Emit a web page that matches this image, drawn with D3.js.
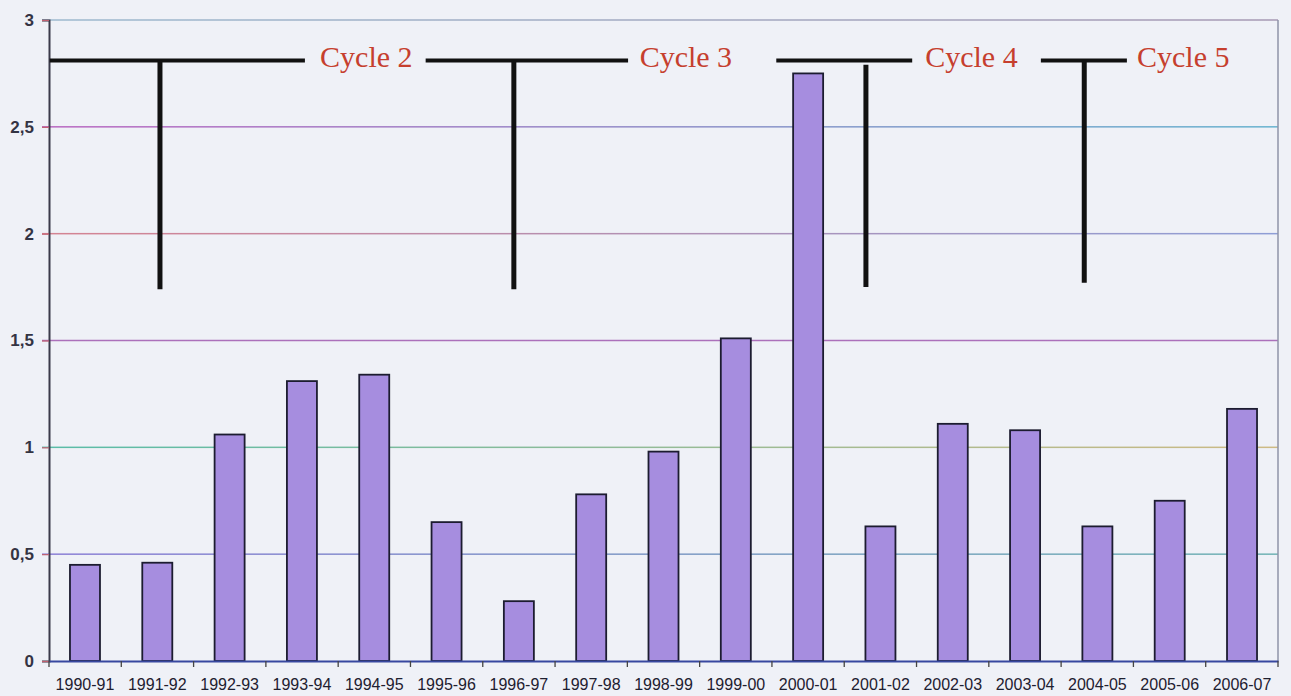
<!DOCTYPE html>
<html>
<head>
<meta charset="utf-8">
<script src="https://cdn.jsdelivr.net/npm/d3@7"></script>
<style>
  html, body { margin: 0; padding: 0; background: #eff1f7; }
  svg { display: block; }
</style>
</head>
<body>
<svg id="chart" width="1291" height="696"></svg>
<script>
// ---- data ----
const categories = ["1990-91","1991-92","1992-93","1993-94","1994-95","1995-96","1996-97","1997-98","1998-99","1999-00","2000-01","2001-02","2002-03","2003-04","2004-05","2005-06","2006-07"];
const values = [0.45, 0.46, 1.06, 1.31, 1.34, 0.65, 0.28, 0.78, 0.98, 1.51, 2.75, 0.63, 1.11, 1.08, 0.63, 0.75, 1.18];
const yTicks = [0, 0.5, 1, 1.5, 2, 2.5, 3];
// cycle annotations (x in category-index units, y in value units)
const cycleLabels = ["Cycle 2", "Cycle 3", "Cycle 4", "Cycle 5"];
const cycleBarStart = [0.01, 5.21, 10.06, 13.72];
const cycleBarEnd = [3.54, 8.01, 11.94, 14.91];
const cycleStemX = [1.535, 6.43, 11.30, 14.32];
const cycleStemTop = [2.81, 2.81, 2.79, 2.81];
const cycleStemBottom = [1.74, 1.74, 1.75, 1.77];
const cycleTextX = [3.75, 8.17, 12.12, 15.05];
const cycleLevel = 2.81;

// ---- styles ----
const gridColors = [
  ["#6b74b8", "#6b74b8"],
  ["#7a6bd0", "#5aa8a8"],
  ["#3fb39a", "#c8b070"],
  ["#a05ab0", "#a05ab0"],
  ["#d07080", "#7d8fd0"],
  ["#b050b8", "#50a8c8"],
  ["#8fb0c8", "#9a8aa8"]
];

const svg = d3.select("#chart");
const margin = { left: 49, right: 13, top: 20, bottom: 35 };
const W = 1291, H = 696;
const x0 = margin.left, x1 = W - margin.right;
const yTop = margin.top, yBot = H - margin.bottom;

const x = d3.scaleBand().domain(categories).range([x0, x1]).paddingInner(0.585).paddingOuter(0.29);
const xi = d3.scaleLinear().domain([0, categories.length]).range([x0, x1]);
const y = d3.scaleLinear().domain([0, 3]).range([yBot, yTop]);

// gradients for scanned-look gridlines
const defs = svg.append("defs");
yTicks.forEach((t, i) => {
  const g = defs.append("linearGradient").attr("id", "g" + i).attr("x1", "0%").attr("x2", "100%");
  g.append("stop").attr("offset", "0%").attr("stop-color", gridColors[i][0]);
  g.append("stop").attr("offset", "100%").attr("stop-color", gridColors[i][1]);
});

// gridlines
svg.append("g").selectAll("rect").data(yTicks.filter(t => t > 0)).join("rect")
  .attr("x", x0 - 7).attr("width", x1 - x0 + 7)
  .attr("y", d => y(d) - 0.75).attr("height", 1.5)
  .attr("fill", d => `url(#g${yTicks.indexOf(d)})`)
  .attr("opacity", 0.85);

// right border
svg.append("line").attr("x1", x1).attr("x2", x1).attr("y1", yTop).attr("y2", yBot)
  .attr("stroke", "#8f93a8").attr("stroke-width", 1.5);

// bars
svg.append("g").selectAll("rect").data(values).join("rect")
  .attr("x", (d, i) => x(categories[i]))
  .attr("width", x.bandwidth())
  .attr("y", d => y(d))
  .attr("height", d => y(0) - y(d))
  .attr("fill", "#a68ddf")
  .attr("stroke", "#1c1c30")
  .attr("stroke-width", 1.8);

// y axis
const yAxis = d3.axisLeft(y).tickValues(yTicks).tickSize(7).tickPadding(8)
  .tickFormat(d => String(d).replace(".", ","));
const gy = svg.append("g").attr("transform", `translate(${x0},0)`).call(yAxis);
gy.select(".domain").attr("stroke", "#3a3a4a").attr("stroke-width", 2);
gy.selectAll(".tick line").attr("stroke", "#c06070").attr("stroke-width", 1.2);
gy.selectAll("text").attr("font-family", "Liberation Sans, Arial, sans-serif")
  .attr("font-size", 17).attr("fill", "#1e2030").attr("font-weight", "bold").attr("opacity", 0.9);

// x axis
const xAxis = d3.axisBottom(x).tickSize(0).tickPadding(18);
const gx = svg.append("g").attr("transform", `translate(0,${yBot})`).call(xAxis);
gx.select(".domain").attr("stroke", "#3848a0").attr("stroke-width", 1.8);
gx.selectAll("text").attr("font-family", "Liberation Sans, Arial, sans-serif")
  .attr("font-size", 16).attr("fill", "#1e2030");
// tick marks at band boundaries
svg.append("g").selectAll("line").data(d3.range(categories.length + 1)).join("line")
  .attr("x1", d => xi(d)).attr("x2", d => xi(d))
  .attr("y1", yBot).attr("y2", yBot + 6)
  .attr("stroke", "#444").attr("stroke-width", 1.3);

// cycle annotations
const ann = svg.append("g");
ann.selectAll("line.h").data(cycleLabels).join("line").attr("class", "h")
  .attr("x1", (d, i) => xi(cycleBarStart[i])).attr("x2", (d, i) => xi(cycleBarEnd[i]))
  .attr("y1", y(cycleLevel)).attr("y2", y(cycleLevel))
  .attr("stroke", "#111").attr("stroke-width", 4);
ann.selectAll("line.v").data(cycleLabels).join("line").attr("class", "v")
  .attr("x1", (d, i) => xi(cycleStemX[i])).attr("x2", (d, i) => xi(cycleStemX[i]))
  .attr("y1", (d, i) => y(cycleStemTop[i])).attr("y2", (d, i) => y(cycleStemBottom[i]))
  .attr("stroke", "#111").attr("stroke-width", 5);
ann.selectAll("text").data(cycleLabels).join("text")
  .attr("x", (d, i) => xi(cycleTextX[i]))
  .attr("y", y(cycleLevel) + 6)
  .attr("font-family", "Liberation Serif, Times New Roman, serif")
  .attr("font-size", 30)
  .attr("fill", "#c63f2e")
  .text(d => d);
</script>
</body>
</html>
